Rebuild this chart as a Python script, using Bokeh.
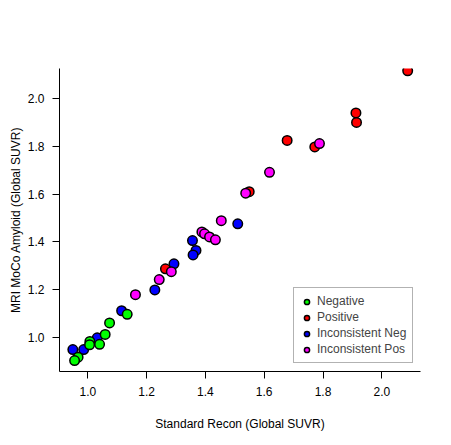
from bokeh.plotting import figure
from bokeh.models import Range1d, Legend, LegendItem, FixedTicker
from bokeh.embed import file_html
from bokeh.resources import INLINE

# ---- data (Standard Recon SUVR, MRI MoCo SUVR) ----
neg_x = [1.134, 1.074, 1.059, 1.040, 1.007, 1.006, 0.967, 0.955]
neg_y = [1.098, 1.062, 1.014, 0.973, 0.985, 0.971, 0.919, 0.905]

pos_x = [2.088, 1.912, 1.914, 1.678, 1.772, 1.549, 1.264]
pos_y = [2.115, 1.939, 1.899, 1.824, 1.797, 1.610, 1.288]

ineg_x = [1.510, 1.356, 1.368, 1.358, 1.293, 1.228, 1.115, 1.032, 0.986, 0.949]
ineg_y = [1.476, 1.406, 1.365, 1.346, 1.309, 1.200, 1.113, 1.000, 0.951, 0.951]

ipos_x = [1.788, 1.618, 1.537, 1.454, 1.388, 1.397, 1.414, 1.434, 1.284, 1.243, 1.162]
ipos_y = [1.811, 1.691, 1.604, 1.489, 1.442, 1.434, 1.421, 1.409, 1.276, 1.243, 1.180]

ticks = [1.0, 1.2, 1.4, 1.6, 1.8, 2.0]
tick_labels = {1.0: "1.0", 1.2: "1.2", 1.4: "1.4", 1.6: "1.6", 1.8: "1.8", 2.0: "2.0"}

FONT = "Liberation Sans"

p = figure(frame_width=361, frame_height=303,
           min_border_left=59, min_border_top=68, min_border_right=14, min_border_bottom=54,
           x_range=Range1d(0.9037, 2.1316), y_range=Range1d(0.8593, 2.1244),
           output_backend="svg", toolbar_location=None)
p.outline_line_color = None
p.grid.visible = False

for ax in (p.xaxis[0], p.yaxis[0]):
    ax.ticker = FixedTicker(ticks=ticks)
    ax.major_label_overrides = tick_labels
    ax.minor_tick_line_color = None
    ax.major_tick_in = 0
    ax.major_tick_out = 7
    ax.major_label_standoff = 8
    ax.major_label_text_font = FONT
    ax.major_label_text_font_size = "12px"
    ax.major_label_text_color = "black"
    ax.axis_label_text_font = FONT
    ax.axis_label_text_font_size = "12px"
    ax.axis_label_text_font_style = "normal"
    ax.axis_label_text_color = "black"
    ax.axis_line_color = "black"
    ax.major_tick_line_color = "black"

p.xaxis.axis_label = "Standard Recon (Global SUVR)"
p.xaxis.axis_label_standoff = 18
p.yaxis.axis_label = "MRI MoCo Amyloid (Global SUVR)"
p.yaxis.axis_label_standoff = 2
p.yaxis.major_label_orientation = "horizontal"

common = dict(size=9.5, line_color="black", line_width=1.5)
r_ineg = p.scatter(ineg_x, ineg_y, fill_color="#0000FF", **common)
r_neg = p.scatter(neg_x, neg_y, fill_color="#00FF00", **common)
r_pos = p.scatter(pos_x, pos_y, fill_color="#FF0000", **common)
r_ipos = p.scatter(ipos_x, ipos_y, fill_color="#FF00FF", **common)

legend = Legend(items=[
    LegendItem(label="Negative", renderers=[r_neg]),
    LegendItem(label="Positive", renderers=[r_pos]),
    LegendItem(label="Inconsistent Neg", renderers=[r_ineg]),
    LegendItem(label="Inconsistent Pos", renderers=[r_ipos]),
], location=(234, 8))
legend.label_text_font = FONT
legend.label_text_font_size = "12px"
legend.label_height = 14
legend.glyph_height = 13
legend.glyph_width = 13
legend.spacing = 2
legend.padding = 6
legend.margin = 0
legend.label_standoff = 4
legend.border_line_color = "#666666"
legend.border_line_width = 1
legend.background_fill_alpha = 1
p.add_layout(legend, "center")

open("out.html", "w").write(file_html(p, INLINE))
